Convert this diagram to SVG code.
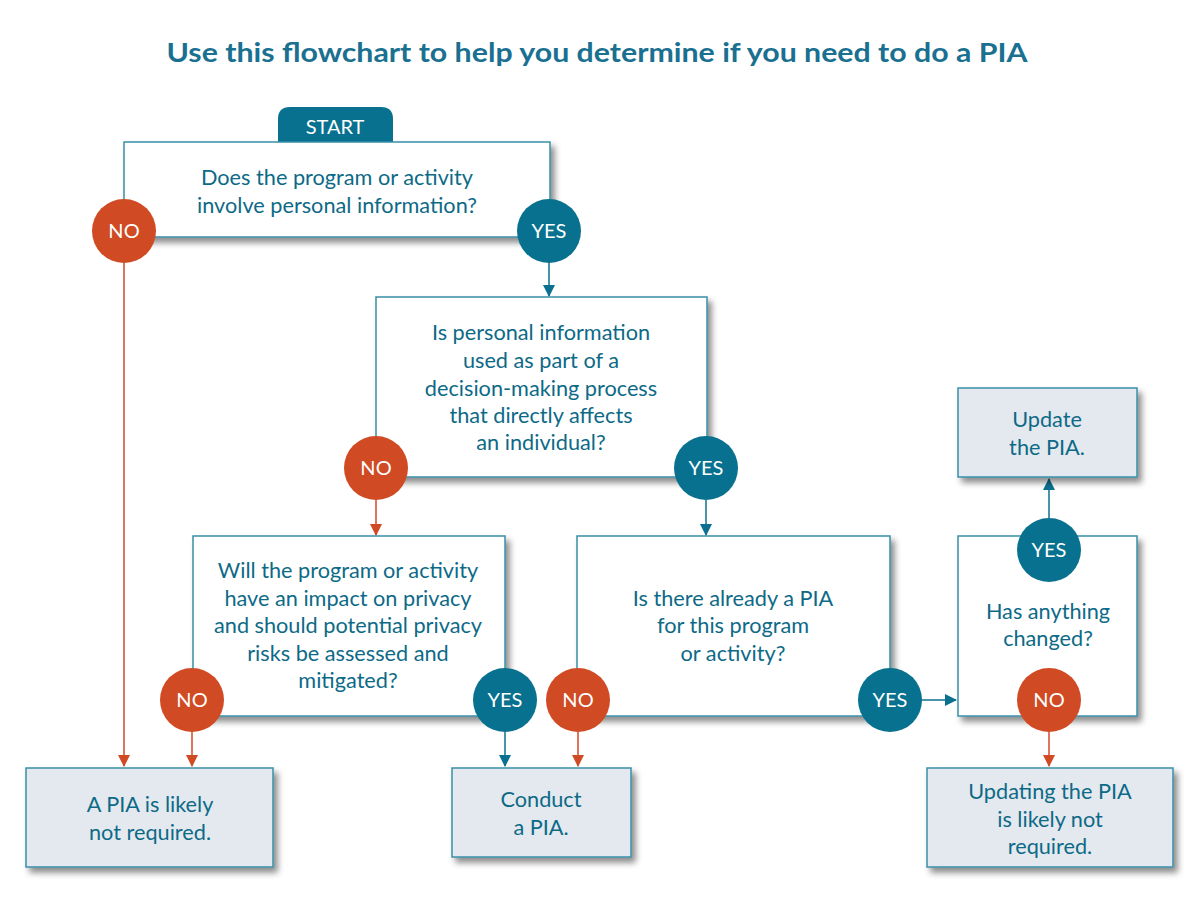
<svg xmlns="http://www.w3.org/2000/svg" width="1200" height="922" viewBox="0 0 1200 922">
<defs>
<filter id="sh" x="-10%" y="-10%" width="130%" height="140%">
<feDropShadow dx="4" dy="5" stdDeviation="3" flood-color="#000" flood-opacity="0.45"/>
</filter>
<marker id="at" viewBox="0 0 12 12" refX="11" refY="6" markerWidth="12" markerHeight="12" markerUnits="userSpaceOnUse" orient="auto"><path d="M0,0 L12,6 L0,12 z" fill="#0b708f"/></marker>
<marker id="ao" viewBox="0 0 12 12" refX="11" refY="6" markerWidth="12" markerHeight="12" markerUnits="userSpaceOnUse" orient="auto"><path d="M0,0 L12,6 L0,12 z" fill="#d04a24"/></marker>
</defs>
<style>
.t{font-family:Lato,"Open Sans","Liberation Sans",sans-serif;font-size:21.7px;fill:#0d6a87;text-anchor:middle}
.q{fill:#fff;stroke:#3a8ea8;stroke-width:1.5}
.r{fill:#e4e9ef;stroke:#3a8ea8;stroke-width:1.5}
.no{fill:#d04a24}
.yes{fill:#07718f}
.ct{font-family:Lato,"Open Sans","Liberation Sans",sans-serif;font-size:20px;fill:#fff;text-anchor:middle}
.lt{stroke:#0b708f;stroke-width:1.5;fill:none}
.lo{stroke:#d04a24;stroke-width:1.5;fill:none}
</style>
<rect width="1200" height="922" fill="#fff"/>
<text x="597" y="62" font-family="Lato,'Open Sans','Liberation Sans',sans-serif" font-size="27" font-weight="bold" fill="#1a7090" text-anchor="middle" textLength="861" lengthAdjust="spacingAndGlyphs">Use this flowchart to help you determine if you need to do a PIA</text>

<g id="connectors">
<line class="lo" x1="124" y1="263" x2="124" y2="766" marker-end="url(#ao)"/>
<line class="lt" x1="549" y1="263" x2="549" y2="296" marker-end="url(#at)"/>
<line class="lo" x1="376" y1="500" x2="376" y2="535" marker-end="url(#ao)"/>
<line class="lt" x1="706" y1="500" x2="706" y2="535" marker-end="url(#at)"/>
<line class="lo" x1="192" y1="732" x2="192" y2="766" marker-end="url(#ao)"/>
<line class="lt" x1="505" y1="732" x2="505" y2="766" marker-end="url(#at)"/>
<line class="lo" x1="578" y1="732" x2="578" y2="766" marker-end="url(#ao)"/>
<line class="lt" x1="922" y1="700" x2="956" y2="700" marker-end="url(#at)"/>
<line class="lt" x1="1049" y1="518" x2="1049" y2="479" marker-end="url(#at)"/>
<line class="lo" x1="1049" y1="732" x2="1049" y2="766" marker-end="url(#ao)"/>
</g>

<g id="start">
<path d="M278,142 V119 Q278,107 290,107 H381 Q393,107 393,119 V142 Z" fill="#07718f"/>
<text class="ct" x="335" y="134">START</text>
</g>

<g id="q1">
<rect class="q" x="124" y="142" width="426" height="95" filter="url(#sh)"/>
<text class="t" x="337" y="185">Does the program or activity</text>
<text class="t" x="337" y="213">involve personal information?</text>
</g>
<g id="q1-no"><circle class="no" cx="124" cy="231" r="32"/><text class="ct" x="124" y="238">NO</text></g>
<g id="q1-yes"><circle class="yes" cx="549" cy="231" r="32"/><text class="ct" x="549" y="238">YES</text></g>

<g id="q2">
<rect class="q" x="376" y="297" width="331" height="180" filter="url(#sh)"/>
<text class="t" x="541" y="340">Is personal information</text>
<text class="t" x="541" y="368">used as part of a</text>
<text class="t" x="541" y="396">decision-making process</text>
<text class="t" x="541" y="423">that directly affects</text>
<text class="t" x="541" y="450">an individual?</text>
</g>
<g id="q2-no"><circle class="no" cx="376" cy="468" r="32"/><text class="ct" x="376" y="475">NO</text></g>
<g id="q2-yes"><circle class="yes" cx="706" cy="468" r="32"/><text class="ct" x="706" y="475">YES</text></g>

<g id="q3">
<rect class="q" x="193" y="536" width="312" height="180" filter="url(#sh)"/>
<text class="t" x="348" y="578">Will the program or activity</text>
<text class="t" x="348" y="606">have an impact on privacy</text>
<text class="t" x="348" y="633">and should potential privacy</text>
<text class="t" x="348" y="661">risks be assessed and</text>
<text class="t" x="348" y="688">mitigated?</text>
</g>
<g id="q3-no"><circle class="no" cx="192" cy="700" r="32"/><text class="ct" x="192" y="707">NO</text></g>
<g id="q3-yes"><circle class="yes" cx="505" cy="700" r="32"/><text class="ct" x="505" y="707">YES</text></g>

<g id="q4">
<rect class="q" x="577" y="536" width="313" height="180" filter="url(#sh)"/>
<text class="t" x="733" y="606">Is there already a PIA</text>
<text class="t" x="733" y="633">for this program</text>
<text class="t" x="733" y="661">or activity?</text>
</g>
<g id="q4-no"><circle class="no" cx="578" cy="700" r="32"/><text class="ct" x="578" y="707">NO</text></g>
<g id="q4-yes"><circle class="yes" cx="890" cy="700" r="32"/><text class="ct" x="890" y="707">YES</text></g>

<g id="q5">
<rect class="q" x="958" y="536" width="179" height="180" filter="url(#sh)"/>
<text class="t" x="1048" y="619">Has anything</text>
<text class="t" x="1048" y="646">changed?</text>
</g>
<g id="q5-yes"><circle class="yes" cx="1049" cy="550" r="32"/><text class="ct" x="1049" y="557">YES</text></g>
<g id="q5-no"><circle class="no" cx="1049" cy="700" r="32"/><text class="ct" x="1049" y="707">NO</text></g>

<g id="update">
<rect class="r" x="958" y="388" width="179" height="89" filter="url(#sh)"/>
<text class="t" x="1047" y="427">Update</text>
<text class="t" x="1047" y="455">the PIA.</text>
</g>

<g id="not-required">
<rect class="r" x="26" y="768" width="247" height="99" filter="url(#sh)"/>
<text class="t" x="150" y="812">A PIA is likely</text>
<text class="t" x="150" y="840">not required.</text>
</g>

<g id="conduct">
<rect class="r" x="452" y="768" width="179" height="89" filter="url(#sh)"/>
<text class="t" x="541" y="807">Conduct</text>
<text class="t" x="541" y="835">a PIA.</text>
</g>

<g id="updating-not-required">
<rect class="r" x="927" y="768" width="246" height="99" filter="url(#sh)"/>
<text class="t" x="1050" y="799">Updating the PIA</text>
<text class="t" x="1050" y="827">is likely not</text>
<text class="t" x="1050" y="854">required.</text>
</g>
</svg>
